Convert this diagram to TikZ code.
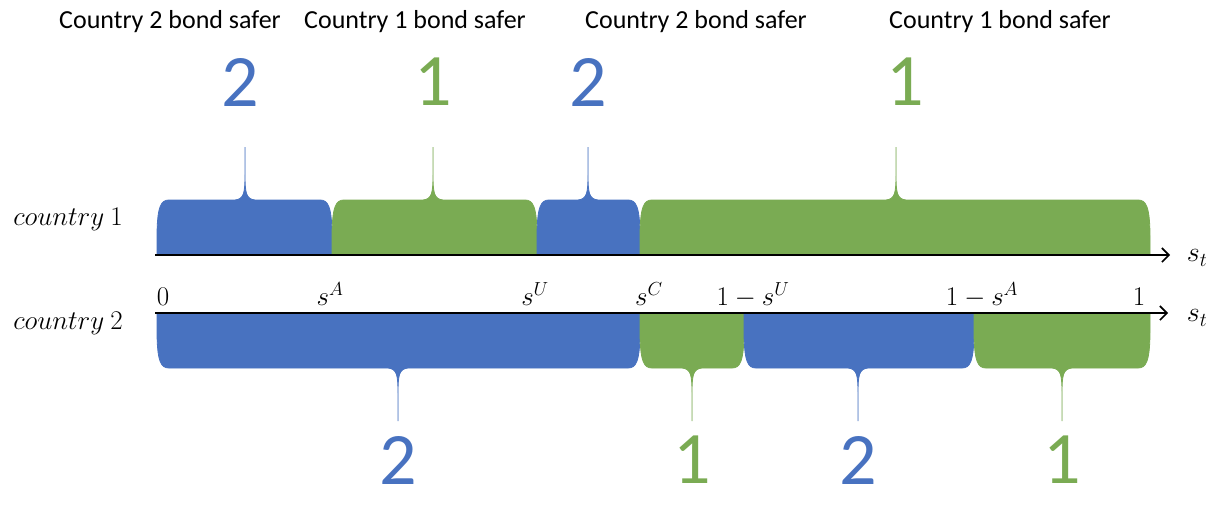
\RequirePackage{fix-cm}
\documentclass[tikz,border=0pt]{standalone}
\usepackage{fontspec}
\setmainfont{Carlito}
\usetikzlibrary{arrows.meta}
\definecolor{bondblue}{RGB}{72,114,192}
\definecolor{bondgreen}{RGB}{122,171,83}

\begin{document}
\begin{tikzpicture}[x=1pt,y=-1pt,>={Straight Barb[length=7pt,width=14pt]}, line width=1.6pt]
    \tikzstyle{head} = [font=\fontsize{26}{30}\selectfont]
    \tikzstyle{bignum} = [font=\fontsize{74}{80}\selectfont]
    \tikzstyle{tick} = [anchor=base, font=\fontsize{27}{31}\selectfont]
    \tikzstyle{brace} = [line width=0.8pt]

    \useasboundingbox (0,0) rectangle (1227,507);

    % country 1 braces (from/to/tip/colour)
    \foreach \a/\b/\m/\c in {157/332/245/bondblue, 332/537/433/bondgreen, 537/640/588/bondblue, 640/1150/896/bondgreen}
        \filldraw[brace, fill=\c, draw=\c] (\a,255) -- (\a,238) .. controls (\a,206) and (\a+4,200) .. (\a+12,200) -- (\m-10,200) .. controls (\m-1,199) and (\m,193) .. (\m,174) -- (\m,147) -- (\m,174) .. controls (\m,193) and (\m+1,199) .. (\m+10,200) -- (\b-12,200) .. controls (\b-4,200) and (\b,206) .. (\b,238) -- (\b,255) -- cycle;

    % country 2 braces
    \foreach \a/\b/\m/\c in {157/640/398/bondblue, 640/744/692/bondgreen, 744/974/858/bondblue, 974/1150/1062/bondgreen}
        \filldraw[brace, fill=\c, draw=\c] (\a,313) -- (\a,330) .. controls (\a,362) and (\a+4,368) .. (\a+12,368) -- (\m-10,368) .. controls (\m-1,369) and (\m,375) .. (\m,394) -- (\m,421) -- (\m,394) .. controls (\m,375) and (\m+1,369) .. (\m+10,368) -- (\b-12,368) .. controls (\b-4,368) and (\b,362) .. (\b,330) -- (\b,313) -- cycle;

    % axes
    \coordinate (ax1s) at (155,255);
    \coordinate (ax1e) at (1170,255);
    \coordinate (ax2s) at (155,313);
    \coordinate (ax2e) at (1168,313);
    \draw[->] (ax1s) -- (ax1e);
    \draw[->] (ax2s) -- (ax2e);
    \node[font=\fontsize{28}{32}\selectfont] (st1) at (1197,258) {$s_t$};
    \node[font=\fontsize{28}{32}\selectfont] (st2) at (1197,318) {$s_t$};

    % country labels
    \node[font=\fontsize{27}{31}\selectfont] (c1) at (68,219) {$country\ 1$};
    \node[font=\fontsize{27}{31}\selectfont] (c2) at (68,323) {$country\ 2$};

    % tick labels
    \node[tick] (t0) at (163,305) {$0$};
    \node[tick] (tA) at (330,305) {$s^A$};
    \node[tick] (tU) at (535,305) {$s^U$};
    \node[tick] (tC) at (649,305) {$s^C$};
    \node[tick] (t1U) at (753,305) {$1-s^U$};
    \node[tick] (t1A) at (982,305) {$1-s^A$};
    \node[tick] (t1) at (1139,305) {$1$};

    % headings
    \node[head] (hd1) at (170,22) {Country 2 bond safer};
    \node[head] (hd2) at (415,22) {Country 1 bond safer};
    \node[head] (hd3) at (696,22) {Country 2 bond safer};
    \node[head] (hd4) at (1000,22) {Country 1 bond safer};

    % safer bond numbers
    \node[bignum, bondblue] (n1) at (240,82) {2};
    \node[bignum, bondgreen] (n2) at (433,82) {1};
    \node[bignum, bondblue] (n3) at (588,82) {2};
    \node[bignum, bondgreen] (n4) at (905,82) {1};
    \node[bignum, bondblue] (m1) at (398,460) {2};
    \node[bignum, bondgreen] (m2) at (692,460) {1};
    \node[bignum, bondblue] (m3) at (858,460) {2};
    \node[bignum, bondgreen] (m4) at (1062,460) {1};
\end{tikzpicture}
\end{document}
